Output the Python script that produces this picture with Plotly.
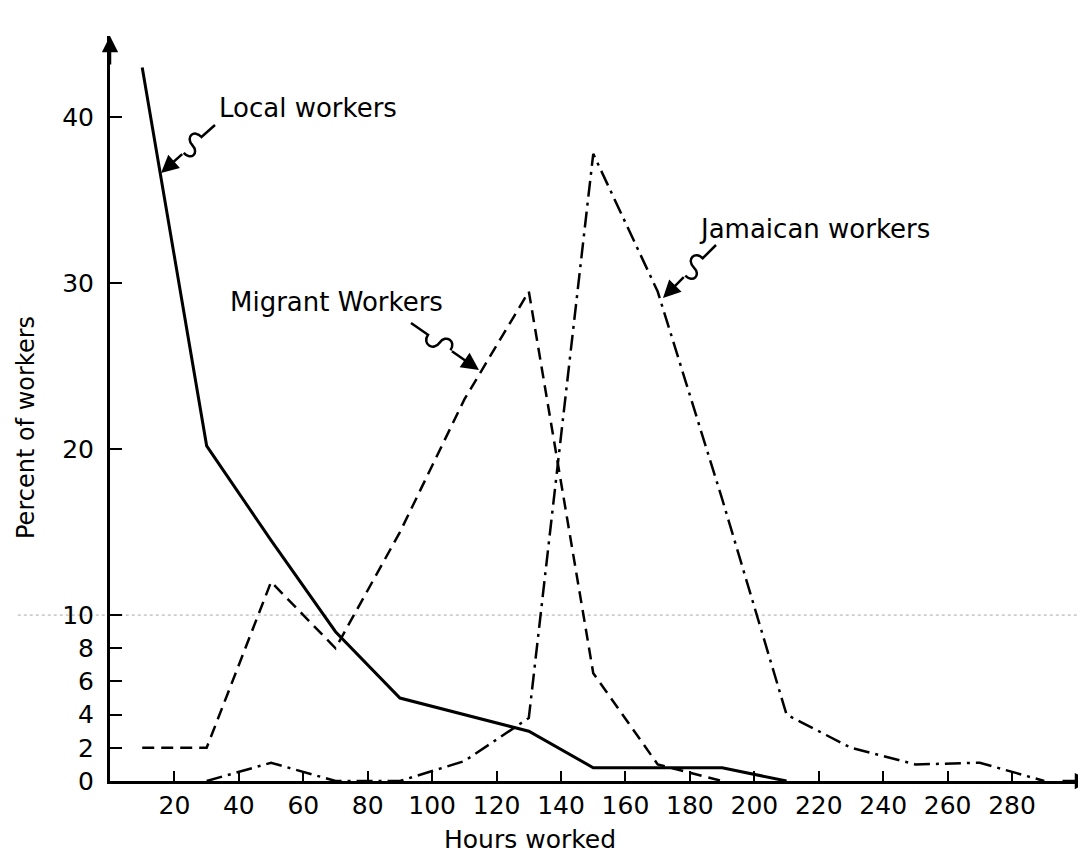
import math
import plotly.graph_objects as go

# ---- data ----
hours = [10, 30, 50, 70, 90, 110, 130, 150, 170, 190, 210, 230, 250, 270, 290]
local_workers = [43, 20.2, 14.5, 9.0, 5.0, 4.0, 3.0, 0.8, 0.8, 0.8, 0, None, None, None, None]
migrant_workers = [2, 2, 12, 8, 15, 23, 29.5, 6.5, 1, 0, None, None, None, None, None]
jamaican_workers = [None, 0, 1.1, 0, 0, 1.2, 3.8, 37.8, 29.5, 17, 4, 2, 1, 1.1, 0]

x_ticks = [20, 40, 60, 80, 100, 120, 140, 160, 180, 200, 220, 240, 260, 280]
y_ticks = [0, 2, 4, 6, 8, 10, 20, 30, 40]

W, H = 1086, 858
ML, MR, MT, MB = 102, 3, 28, 85
PW, PH = W - ML - MR, H - MT - MB
FONT = "DejaVu Sans"

def px2paper(px, py):
    return (px - ML) / PW, (H - MB - py) / PH

fig = go.Figure()
fig.add_trace(go.Scatter(x=hours, y=local_workers, mode="lines", name="Local workers",
                         line=dict(color="black", width=3)))
fig.add_trace(go.Scatter(x=hours, y=migrant_workers, mode="lines", name="Migrant Workers",
                         line=dict(color="black", width=2.5, dash="12px,7px")))
fig.add_trace(go.Scatter(x=hours, y=jamaican_workers, mode="lines", name="Jamaican workers",
                         line=dict(color="black", width=2.5, dash="16px,6px,3px,6px")))

shapes = []
annotations = []

# faint dotted line at 10 (scan artefact in the original)
shapes.append(dict(type="line", xref="paper", yref="y", x0=-0.094, x1=1.0, y0=10, y1=10,
                   line=dict(color="#aaaaaa", width=1, dash="dot"), layer="below"))

def squiggle(text, text_px, tail_px, tip_px, size=26):
    tx, ty = tail_px
    hx, hy = tip_px
    dx, dy = hx - tx, hy - ty
    L = math.hypot(dx, dy)
    ux, uy = dx / L, dy / L
    nx, ny = -uy, ux
    w = 11
    A = (tx + 0.25 * dx, ty + 0.25 * dy)
    M = (tx + 0.42 * dx, ty + 0.42 * dy)
    B = (tx + 0.58 * dx, ty + 0.58 * dy)
    def P(p):
        x, y = px2paper(*p)
        return f"{x:.5f},{y:.5f}"
    path = (f"M {P((tx, ty))} L {P(A)} "
            f"C {P((A[0] + nx * w, A[1] + ny * w))} {P((M[0] + nx * w, M[1] + ny * w))} {P(M)} "
            f"C {P((M[0] - nx * w, M[1] - ny * w))} {P((B[0] - nx * w, B[1] - ny * w))} {P(B)}")
    shapes.append(dict(type="path", xref="paper", yref="paper", path=path,
                       line=dict(color="black", width=2.5)))
    x, y = px2paper(hx, hy)
    annotations.append(dict(xref="paper", yref="paper", x=x, y=y, ax=B[0] - hx, ay=B[1] - hy,
                            showarrow=True, arrowhead=2, arrowsize=1.4, arrowwidth=2.5,
                            arrowcolor="black", text=""))
    x, y = px2paper(*text_px)
    annotations.append(dict(xref="paper", yref="paper", x=x, y=y, text=text, showarrow=False,
                            font=dict(family=FONT, size=size, color="black"),
                            xanchor="center", yanchor="middle"))

squiggle("Local workers", (300, 100), (207, 117), (153, 165))
squiggle("Migrant Workers", (328, 294), (403, 315), (471, 362))
squiggle("Jamaican workers", (806, 221), (708, 237), (655, 290))

# axis arrows
annotations.append(dict(xref="paper", yref="paper", x=0, y=1, ax=0, ay=30, showarrow=True,
                        arrowhead=2, arrowsize=1.3, arrowwidth=2.5, arrowcolor="black", text=""))
annotations.append(dict(xref="paper", yref="paper", x=1, y=0, ax=-30, ay=0, showarrow=True,
                        arrowhead=2, arrowsize=1.3, arrowwidth=2.5, arrowcolor="black", text=""))

# axis titles
x, y = px2paper(522, 832)
annotations.append(dict(xref="paper", yref="paper", x=x, y=y, text="Hours worked", showarrow=False,
                        font=dict(family=FONT, size=25, color="black"),
                        xanchor="center", yanchor="middle"))
x, y = px2paper(18, 420)
annotations.append(dict(xref="paper", yref="paper", x=x, y=y, text="Percent of workers",
                        showarrow=False, textangle=-90,
                        font=dict(family=FONT, size=24, color="black"),
                        xanchor="center", yanchor="middle"))

fig.update_layout(
    width=W, height=H,
    margin=dict(l=ML, r=MR, t=MT, b=MB),
    paper_bgcolor="white", plot_bgcolor="white",
    showlegend=False,
    font=dict(family=FONT, size=26, color="black"),
    shapes=shapes, annotations=annotations,
    xaxis=dict(range=[0, 304.5], tickvals=x_ticks, ticktext=[str(v) for v in x_ticks],
               showgrid=False, zeroline=False, showline=True, linecolor="black", linewidth=3,
               ticks="inside", ticklen=10, tickwidth=2, tickcolor="black",
               ticklabelstandoff=0,
               tickfont=dict(family=FONT, size=25, color="black")),
    yaxis=dict(range=[0, 44.9], tickvals=y_ticks, ticktext=[str(v) for v in y_ticks],
               showgrid=False, zeroline=False, showline=True, linecolor="black", linewidth=3,
               ticks="inside", ticklen=12, tickwidth=2, tickcolor="black",
               ticklabelstandoff=8,
               tickfont=dict(family=FONT, size=25, color="black")),
)

fig.write_html("out.html")
